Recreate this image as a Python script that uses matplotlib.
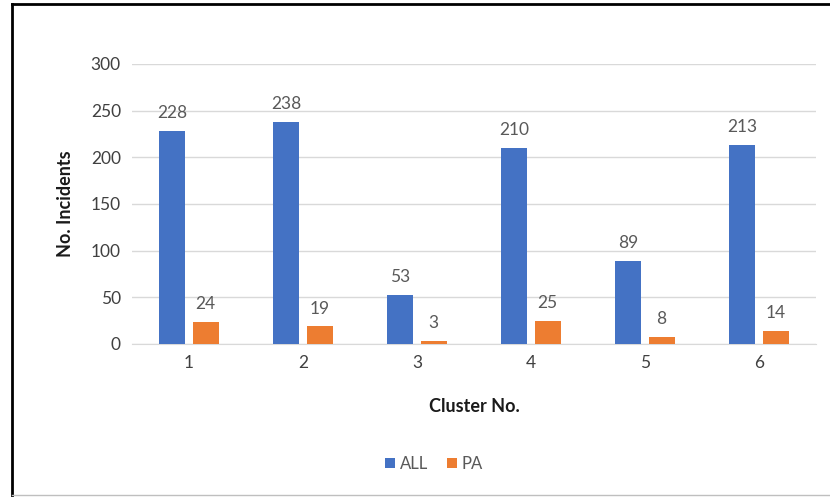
import numpy as np
import matplotlib.pyplot as plt
from matplotlib.lines import Line2D

plt.rcParams['font.family'] = ['Lato', 'DejaVu Sans']

# Данные
clusters = ["1", "2", "3", "4", "5", "6"]
all_vals = [228, 238, 53, 210, 89, 213]
pa_vals = [24, 19, 3, 25, 8, 14]

blue = "#4472C4"
orange = "#ED7D31"

fig = plt.figure(figsize=(8.3, 4.97), dpi=100)
W, H = 830, 497
ax = fig.add_axes([132 / W, 1 - 344 / H, (816 - 132) / W, (344 - 64) / H])

x = np.arange(len(clusters))
w = 0.228
off = 0.145
b1 = ax.bar(x - off, all_vals, w, color=blue, label="ALL", zorder=3)
b2 = ax.bar(x + off, pa_vals, w, color=orange, label="PA", zorder=3)

for bars in (b1, b2):
    for r in bars:
        ax.annotate(str(int(r.get_height())), (r.get_x() + r.get_width() / 2, r.get_height()),
                    xytext=(0, 7), textcoords="offset points", ha="center", va="bottom",
                    fontsize=12.5, color="#595959")

ax.set_xlim(-0.5, len(clusters) - 0.5)
ax.set_ylim(0, 300)
ax.set_yticks(range(0, 301, 50))
ax.set_xticks(x)
ax.set_xticklabels(clusters)
ax.tick_params(length=0, labelsize=12.5, colors="#404040", pad=8)
ax.grid(axis="y", color="#D9D9D9", linewidth=1, zorder=0)
for s in ["top", "right", "left"]:
    ax.spines[s].set_visible(False)
ax.spines["bottom"].set_color("#D9D9D9")

ax.set_xlabel("Cluster No.", fontsize=13, fontweight="bold", color="#1a1a1a", labelpad=19)
ax.set_ylabel("No. Incidents", fontsize=13, fontweight="bold", color="#1a1a1a", labelpad=12)

fig.legend(handles=[b1, b2], loc="center", bbox_to_anchor=(434 / W, 1 - 464 / H), ncol=2,
           frameon=False, fontsize=12, labelcolor="#595959", handlelength=0.6,
           handleheight=0.6, handletextpad=0.3, columnspacing=1.1)

# Рамка
fig.add_artist(Line2D([12 / W, 12 / W], [0, 1 - 4 / H], color="black", lw=2, transform=fig.transFigure))
fig.add_artist(Line2D([12 / W, 1], [1 - 4 / H, 1 - 4 / H], color="black", lw=2, transform=fig.transFigure))
fig.add_artist(Line2D([12 / W, 1], [1 - 495 / H, 1 - 495 / H], color="#BFBFBF", lw=1, transform=fig.transFigure))

fig.savefig("out.png", dpi=100)
